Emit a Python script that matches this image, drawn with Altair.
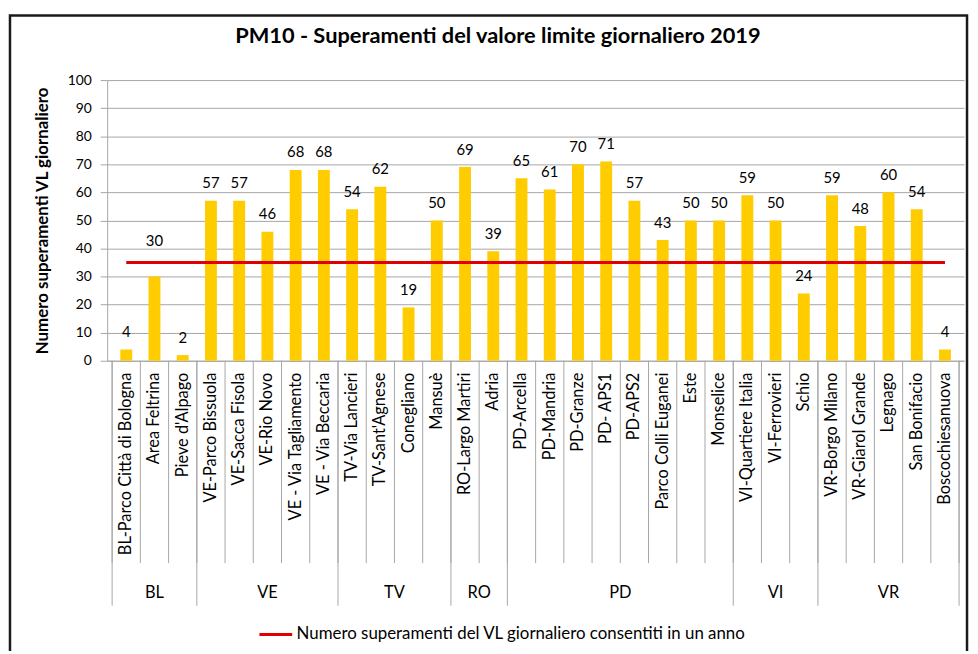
import altair as alt
import pandas as pd

# ---- data ----
stations = [
    "BL-Parco Città di Bologna", "Area Feltrina", "Pieve d'Alpago",
    "VE-Parco Bissuola", "VE-Sacca Fisola", "VE-Rio Novo", "VE - Via Tagliamento", "VE - Via Beccaria",
    "TV-Via Lancieri", "TV-Sant'Agnese", "Conegliano", "Mansuè",
    "RO-Largo Martiri", "Adria",
    "PD-Arcella", "PD-Mandria", "PD-Granze", "PD- APS1", "PD-APS2", "Parco Colli Euganei", "Este", "Monselice",
    "VI-Quartiere Italia", "VI-Ferrovieri", "Schio",
    "VR-Borgo Milano", "VR-Giarol Grande", "Legnago", "San Bonifacio", "Boscochiesanuova",
]
groups = (["BL"] * 3 + ["VE"] * 5 + ["TV"] * 4 + ["RO"] * 2 + ["PD"] * 8 + ["VI"] * 3 + ["VR"] * 5)
values = [4, 30, 2, 57, 57, 46, 68, 68, 54, 62, 19, 50, 69, 39,
          65, 61, 70, 71, 57, 43, 50, 50, 59, 50, 24, 59, 48, 60, 54, 4]
y_ticks = [0, 10, 20, 30, 40, 50, 60, 70, 80, 90, 100]
limit_value = 35
legend_label = "Numero superamenti del VL giornaliero consentiti in un anno"
title_text = "PM10 - Superamenti del valore limite giornaliero 2019"
y_title = "Numero superamenti VL giornaliero"

# ---- tables built from the arrays ----
n = len(stations)
df = pd.DataFrame({"station": stations, "group": groups, "value": values})
df["idx"] = range(n)
df["pos"] = df["idx"] + 0.5
df["limit"] = limit_value
df["series"] = legend_label

g = df.groupby("group", sort=False)["idx"].agg(["min", "max"]).reset_index()
g["center"] = (g["min"] + g["max"] + 1) / 2
group_starts = set(g["min"].tolist()) | {n}
bounds = pd.DataFrame({"b": list(range(n + 1))})
bounds["is_group"] = bounds["b"].isin(group_starts)

W, H = 864, 283
FONT = "Lato"
GRAY = "#a6a6a6"

xs = alt.Scale(domain=[0, n], nice=False, zero=False)
ys = alt.Scale(domain=[0, 100], nice=False)

x_axis = alt.Axis(labels=False, ticks=False, grid=False, title=None,
                  domainColor=GRAY, domainWidth=1)
y_axis = alt.Axis(values=y_ticks, grid=True, gridColor=GRAY, labelOverlap=False,
                  gridWidth=1, tickSize=7, tickColor=GRAY, domainColor=GRAY,
                  labelFont=FONT, labelFontSize=14, labelColor="black",
                  labelPadding=9, title=y_title, titleFont=FONT,
                  titleFontSize=17, titleFontWeight="bold", titleColor="black",
                  titleX=-65, titleY=H / 2, titleAngle=270,
                  titleAlign="center", titleBaseline="middle")

frame = alt.Chart(pd.DataFrame({"f": [0]})).mark_rect(
    fillOpacity=0, stroke="#1a1a1a", strokeWidth=2.5
).encode(x=alt.value(-98), x2=alt.value(867), y=alt.value(-65), y2=alt.value(600))

bars = alt.Chart(df).mark_bar(size=12, color="#FFCC00").encode(
    x=alt.X("pos:Q", scale=xs, axis=x_axis),
    y=alt.Y("value:Q", scale=ys, axis=y_axis),
)

# labels that would sit on the limit line are lifted just above it
labels = alt.Chart(df).transform_calculate(
    label_y=f"datum.value < {limit_value} && datum.value > {limit_value} - 8 "
            f"? {limit_value} + 1.5 : datum.value"
).mark_text(
    dy=-17.5, baseline="middle", font=FONT, fontSize=15, color="black"
).encode(x=alt.X("pos:Q", scale=xs, axis=x_axis),
         y=alt.Y("label_y:Q", scale=ys, axis=y_axis), text="value:Q")

limit_line = alt.Chart(df).mark_line(strokeWidth=3).encode(
    x=alt.X("pos:Q", scale=xs, axis=x_axis),
    y=alt.Y("limit:Q", scale=ys, axis=y_axis),
    color=alt.Color("series:N",
                    scale=alt.Scale(domain=[legend_label], range=["#e00000"]),
                    legend=alt.Legend(orient="none", legendX=152, legendY=541,
                                      title=None, symbolType="stroke",
                                      symbolStrokeWidth=3, symbolSize=1089,
                                      labelFont=FONT, labelFontSize=17,
                                      labelColor="black", labelLimit=900,
                                      labelOffset=3)),
)

sep_small = alt.Chart(bounds).mark_rule(color=GRAY, strokeWidth=1).encode(
    x=alt.X("b:Q", scale=xs, axis=x_axis), y=alt.value(H), y2=alt.value(H + 204)
)
sep_group = alt.Chart(bounds).transform_filter("datum.is_group").mark_rule(
    color=GRAY, strokeWidth=1
).encode(x=alt.X("b:Q", scale=xs, axis=x_axis), y=alt.value(H), y2=alt.value(H + 247))

station_text = alt.Chart(df).mark_text(
    angle=270, align="right", baseline="middle", font=FONT, fontSize=16.5, color="black"
).encode(x=alt.X("pos:Q", scale=xs, axis=x_axis), y=alt.value(H + 12), text="station:N")

group_text = alt.Chart(g).mark_text(
    align="center", baseline="middle", font=FONT, fontSize=16.5, color="black"
).encode(x=alt.X("center:Q", scale=xs, axis=x_axis), y=alt.value(H + 234), text="group:N")

chart = alt.layer(
    frame, bars, labels, limit_line, sep_small, sep_group, station_text, group_text
).properties(
    width=W, height=H,
    title=alt.TitleParams(title_text, font=FONT, fontSize=22, fontWeight="bold",
                          color="black", anchor="middle", frame="group",
                          baseline="alphabetic", offset=-51, dx=-38),
    autosize=alt.AutoSizeParams(type="none"),
    padding={"left": 100, "top": 70, "right": 6, "bottom": 290},
).configure_view(stroke=None)

chart.save("out.html", embed_options={"renderer": "svg", "actions": False})
